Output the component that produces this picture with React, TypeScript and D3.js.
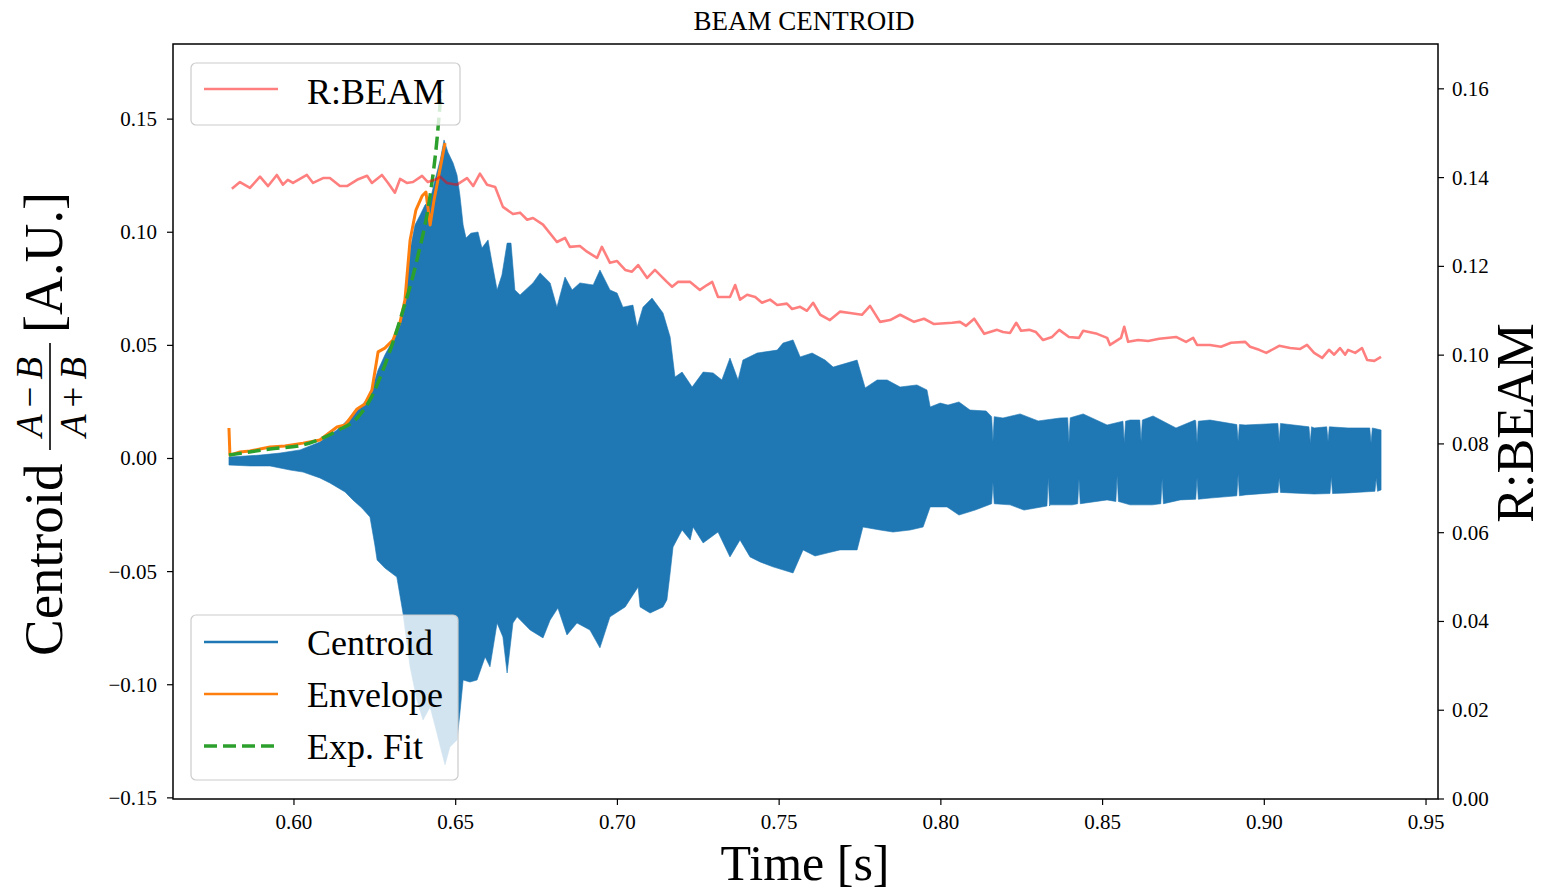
import React from 'react';
import * as d3 from 'd3';

const W = 1545;
const H = 891;

// ---- tick values ----
const xTicks = [0.6, 0.65, 0.7, 0.75, 0.8, 0.85, 0.9, 0.95];
const leftTicks = [-0.15, -0.1, -0.05, 0.0, 0.05, 0.1, 0.15];
const rightTicks = [0.0, 0.02, 0.04, 0.06, 0.08, 0.1, 0.12, 0.14, 0.16];

// ---- Centroid signal: upper and lower edges of the oscillation band [time, value] ----
const centroidUpper: [number, number][] = [
  [0.5799, 0.0007], [0.5849, 0.0011], [0.5895, 0.0015], [0.5957, 0.0024], [0.6019, 0.0038],
  [0.6080, 0.0073], [0.6133, 0.0126], [0.6173, 0.0179], [0.6204, 0.0223], [0.6235, 0.0281],
  [0.6260, 0.0391], [0.6281, 0.0457], [0.6306, 0.0524], [0.6328, 0.0590], [0.6343, 0.0678],
  [0.6359, 0.0921], [0.6374, 0.1032], [0.6390, 0.1076], [0.6405, 0.1120], [0.6421, 0.1142],
  [0.6436, 0.1231], [0.6452, 0.1319], [0.6464, 0.1408], [0.6476, 0.1354], [0.6492, 0.1306],
  [0.6504, 0.1253], [0.6513, 0.1164], [0.6523, 0.1032], [0.6532, 0.0974], [0.6547, 0.0996],
  [0.6569, 0.1001], [0.6581, 0.0930], [0.6600, 0.0966], [0.6612, 0.0868], [0.6628, 0.0745],
  [0.6643, 0.0811], [0.6659, 0.0952], [0.6671, 0.0952], [0.6683, 0.0745], [0.6699, 0.0723],
  [0.6739, 0.0776], [0.6761, 0.0820], [0.6792, 0.0776], [0.6813, 0.0669], [0.6838, 0.0802],
  [0.6860, 0.0745], [0.6884, 0.0776], [0.6925, 0.0767], [0.6946, 0.0833], [0.6977, 0.0745],
  [0.6999, 0.0731], [0.7017, 0.0669], [0.7048, 0.0678], [0.7061, 0.0581], [0.7079, 0.0669],
  [0.7107, 0.0709], [0.7141, 0.0643], [0.7163, 0.0537], [0.7178, 0.0360], [0.7200, 0.0382],
  [0.7231, 0.0316], [0.7265, 0.0382], [0.7296, 0.0378], [0.7323, 0.0347], [0.7348, 0.0444],
  [0.7373, 0.0347], [0.7388, 0.0435], [0.7432, 0.0466], [0.7494, 0.0479], [0.7512, 0.0510],
  [0.7543, 0.0524], [0.7565, 0.0449], [0.7602, 0.0466], [0.7642, 0.0435], [0.7667, 0.0404],
  [0.7741, 0.0435], [0.7766, 0.0312], [0.7803, 0.0347], [0.7834, 0.0347], [0.7874, 0.0316],
  [0.7926, 0.0325], [0.7957, 0.0303], [0.7967, 0.0228], [0.7998, 0.0245], [0.8022, 0.0236],
  [0.8056, 0.0250], [0.8090, 0.0214], [0.8140, 0.0210], [0.8192, 0.0179], [0.8245, 0.0197],
  [0.8301, 0.0166], [0.8369, 0.0179], [0.8440, 0.0197], [0.8514, 0.0148], [0.8585, 0.0170],
  [0.8656, 0.0188], [0.8727, 0.0135], [0.8786, 0.0170], [0.8832, 0.0170], [0.8941, 0.0148],
  [0.9046, 0.0157], [0.9154, 0.0135], [0.9259, 0.0135], [0.9361, 0.0126],
];

// narrow white gaps cutting into the top of the band (late part of the record)
const centroidUpperGaps: [number, number][] = [
  [0.8157, 0.0185], [0.8161, 0.0075], [0.8165, 0.0185],
  [0.8392, 0.0180], [0.8396, 0.0070], [0.8400, 0.0180],
  [0.8563, 0.0165], [0.8567, 0.0068], [0.8571, 0.0165],
  [0.8615, 0.0170], [0.8619, 0.0075], [0.8623, 0.0170],
  [0.8788, 0.0165], [0.8792, 0.0070], [0.8796, 0.0165],
  [0.8915, 0.0150], [0.8919, 0.0075], [0.8923, 0.0150],
  [0.9042, 0.0155], [0.9046, 0.0072], [0.9050, 0.0155],
  [0.9138, 0.0140], [0.9142, 0.0068], [0.9146, 0.0140],
  [0.9193, 0.0140], [0.9197, 0.0075], [0.9201, 0.0140],
  [0.9326, 0.0135], [0.9330, 0.0068], [0.9334, 0.0135],
];

const centroidLower: [number, number][] = [
  [0.5799, -0.0029], [0.5864, -0.0033], [0.5926, -0.0033], [0.5988, -0.0051], [0.6028, -0.0060],
  [0.6080, -0.0086], [0.6111, -0.0108], [0.6158, -0.0148], [0.6182, -0.0183], [0.6210, -0.0219],
  [0.6235, -0.0259], [0.6250, -0.0382], [0.6257, -0.0449], [0.6281, -0.0484], [0.6318, -0.0524],
  [0.6337, -0.0683], [0.6359, -0.0921], [0.6380, -0.1067], [0.6399, -0.1156], [0.6421, -0.1098],
  [0.6442, -0.1213], [0.6455, -0.1288], [0.6467, -0.1354], [0.6482, -0.1275], [0.6504, -0.1244],
  [0.6513, -0.1125], [0.6523, -0.0979], [0.6544, -0.0988], [0.6566, -0.0979], [0.6591, -0.0877],
  [0.6606, -0.0921], [0.6628, -0.0727], [0.6646, -0.0789], [0.6659, -0.0948], [0.6677, -0.0727],
  [0.6690, -0.0700], [0.6730, -0.0758], [0.6770, -0.0793], [0.6792, -0.0714], [0.6816, -0.0661],
  [0.6844, -0.0780], [0.6875, -0.0727], [0.6915, -0.0758], [0.6946, -0.0837], [0.6977, -0.0700],
  [0.7024, -0.0656], [0.7064, -0.0568], [0.7070, -0.0656], [0.7101, -0.0683], [0.7141, -0.0656],
  [0.7153, -0.0625], [0.7163, -0.0506], [0.7172, -0.0391], [0.7200, -0.0316], [0.7225, -0.0360],
  [0.7234, -0.0303], [0.7265, -0.0373], [0.7311, -0.0325], [0.7348, -0.0435], [0.7379, -0.0360],
  [0.7410, -0.0435], [0.7441, -0.0457], [0.7481, -0.0479], [0.7543, -0.0506], [0.7574, -0.0404],
  [0.7611, -0.0431], [0.7648, -0.0418], [0.7688, -0.0404], [0.7741, -0.0404], [0.7759, -0.0303],
  [0.7812, -0.0316], [0.7852, -0.0325], [0.7905, -0.0316], [0.7945, -0.0303], [0.7967, -0.0214],
  [0.8019, -0.0214], [0.8056, -0.0250], [0.8106, -0.0228], [0.8161, -0.0183], [0.8214, -0.0205],
  [0.8257, -0.0228], [0.8338, -0.0205], [0.8406, -0.0205], [0.8514, -0.0183], [0.8585, -0.0205],
  [0.8653, -0.0205], [0.8740, -0.0183], [0.8832, -0.0175], [0.8941, -0.0161], [0.9046, -0.0148],
  [0.9154, -0.0157], [0.9259, -0.0152], [0.9361, -0.0139],
];

// narrow white gaps cutting into the bottom of the band
const centroidLowerGaps: [number, number][] = [
  [0.8157, -0.0200], [0.8161, -0.0105], [0.8165, -0.0200],
  [0.8328, -0.0210], [0.8332, -0.0085], [0.8336, -0.0210],
  [0.8423, -0.0200], [0.8427, -0.0090], [0.8431, -0.0200],
  [0.8541, -0.0190], [0.8545, -0.0075], [0.8549, -0.0190],
  [0.8680, -0.0200], [0.8684, -0.0090], [0.8688, -0.0200],
  [0.8788, -0.0180], [0.8792, -0.0085], [0.8796, -0.0180],
  [0.8915, -0.0165], [0.8919, -0.0070], [0.8923, -0.0165],
  [0.9042, -0.0150], [0.9046, -0.0085], [0.9050, -0.0150],
  [0.9203, -0.0155], [0.9207, -0.0080], [0.9211, -0.0155],
  [0.9342, -0.0145], [0.9346, -0.0085], [0.9350, -0.0145],
];

// ---- Envelope [time, value] ----
const envelope: [number, number][] = [
  [0.5799, 0.0135], [0.5802, 0.0015], [0.5833, 0.0029], [0.5864, 0.0033], [0.5895, 0.0042],
  [0.5926, 0.0051], [0.5972, 0.0055], [0.6028, 0.0068], [0.6080, 0.0082], [0.6133, 0.0139],
  [0.6158, 0.0148], [0.6195, 0.0219], [0.6219, 0.0241], [0.6241, 0.0303], [0.6260, 0.0471],
  [0.6281, 0.0488], [0.6306, 0.0524], [0.6328, 0.0603], [0.6343, 0.0700], [0.6359, 0.0965],
  [0.6377, 0.1098], [0.6396, 0.1160], [0.6408, 0.1178], [0.6421, 0.1032], [0.6433, 0.1142],
  [0.6445, 0.1231], [0.6467, 0.1394],
];

// ---- Exponential fit [time, value] ----
const expFit: [number, number][] = [
  [0.5799, 0.0015], [0.5926, 0.0042], [0.6028, 0.0060], [0.6133, 0.0122], [0.6195, 0.0179],
  [0.6235, 0.0259], [0.6281, 0.0413], [0.6328, 0.0612], [0.6380, 0.0877], [0.6421, 0.1164],
  [0.6442, 0.1407], [0.6455, 0.1628],
];

// ---- R:BEAM (right axis) [time, value] ----
const rBeam: [number, number][] = [
  [0.5808, 0.1375], [0.5833, 0.1390], [0.5864, 0.1377], [0.5895, 0.1402], [0.5920, 0.1381],
  [0.5947, 0.1406], [0.5966, 0.1384], [0.5981, 0.1395], [0.5997, 0.1388], [0.6040, 0.1406],
  [0.6059, 0.1388], [0.6090, 0.1399], [0.6111, 0.1399], [0.6142, 0.1381], [0.6164, 0.1381],
  [0.6195, 0.1395], [0.6226, 0.1404], [0.6241, 0.1388], [0.6272, 0.1406], [0.6291, 0.1388],
  [0.6312, 0.1366], [0.6328, 0.1397], [0.6349, 0.1388], [0.6368, 0.1390], [0.6396, 0.1404],
  [0.6414, 0.1390], [0.6442, 0.1397], [0.6452, 0.1402], [0.6473, 0.1388], [0.6504, 0.1384],
  [0.6535, 0.1399], [0.6554, 0.1381], [0.6575, 0.1409], [0.6597, 0.1384], [0.6622, 0.1379],
  [0.6646, 0.1334], [0.6677, 0.1318], [0.6699, 0.1321], [0.6721, 0.1305], [0.6739, 0.1309],
  [0.6770, 0.1294], [0.6813, 0.1255], [0.6838, 0.1264], [0.6853, 0.1244], [0.6884, 0.1246],
  [0.6906, 0.1233], [0.6937, 0.1219], [0.6952, 0.1244], [0.6977, 0.1208], [0.6999, 0.1212],
  [0.7024, 0.1192], [0.7045, 0.1188], [0.7064, 0.1203], [0.7092, 0.1174], [0.7116, 0.1192],
  [0.7153, 0.1165], [0.7169, 0.1154], [0.7187, 0.1165], [0.7225, 0.1165], [0.7255, 0.1147],
  [0.7277, 0.1158], [0.7293, 0.1165], [0.7311, 0.1131], [0.7348, 0.1131], [0.7364, 0.1158],
  [0.7379, 0.1125], [0.7401, 0.1136], [0.7426, 0.1131], [0.7447, 0.1118], [0.7472, 0.1125],
  [0.7494, 0.1113], [0.7524, 0.1116], [0.7540, 0.1104], [0.7565, 0.1109], [0.7586, 0.1100],
  [0.7605, 0.1118], [0.7627, 0.1091], [0.7657, 0.1079], [0.7688, 0.1098], [0.7719, 0.1095],
  [0.7756, 0.1091], [0.7781, 0.1111], [0.7812, 0.1075], [0.7843, 0.1079], [0.7874, 0.1091],
  [0.7917, 0.1075], [0.7948, 0.1082], [0.7979, 0.1070], [0.8035, 0.1073], [0.8059, 0.1075],
  [0.8078, 0.1066], [0.8103, 0.1082], [0.8134, 0.1048], [0.8174, 0.1057], [0.8192, 0.1052],
  [0.8214, 0.1050], [0.8233, 0.1073], [0.8248, 0.1055], [0.8273, 0.1057], [0.8294, 0.1052],
  [0.8316, 0.1034], [0.8344, 0.1041], [0.8366, 0.1057], [0.8396, 0.1041], [0.8427, 0.1039],
  [0.8440, 0.1055], [0.8483, 0.1048], [0.8514, 0.1039], [0.8523, 0.1023], [0.8557, 0.1039],
  [0.8567, 0.1064], [0.8579, 0.1030], [0.8610, 0.1034], [0.8641, 0.1032], [0.8675, 0.1037],
  [0.8727, 0.1041], [0.8758, 0.1030], [0.8780, 0.1039], [0.8792, 0.1023], [0.8832, 0.1023],
  [0.8866, 0.1019], [0.8897, 0.1028], [0.8941, 0.1030], [0.8956, 0.1019], [0.8984, 0.1012],
  [0.9006, 0.1005], [0.9046, 0.1021], [0.9080, 0.1016], [0.9111, 0.1014], [0.9132, 0.1023],
  [0.9154, 0.1005], [0.9179, 0.0994], [0.9200, 0.1012], [0.9216, 0.1001], [0.9234, 0.1016],
  [0.9250, 0.1001], [0.9259, 0.1012], [0.9281, 0.1005], [0.9302, 0.1016], [0.9318, 0.0989],
  [0.9340, 0.0987], [0.9361, 0.0996],
];

const FONT = "'Liberation Serif', 'DejaVu Serif', serif";
const C_BLUE = '#1f77b4';
const C_ORANGE = '#ff7f0e';
const C_GREEN = '#2ca02c';

const fmt = (v: number) => {
  const s = Math.abs(v).toFixed(2);
  return v < -1e-9 ? '\u2212' + s : s;
};

export default function App() {
  const plot = { left: 173, right: 1438, top: 44, bottom: 799 };
  const x = d3.scaleLinear().domain([0.5626, 0.9537]).range([plot.left, plot.right]);
  const yL = d3.scaleLinear().domain([-0.1505, 0.1832]).range([plot.bottom, plot.top]);
  const yR = d3.scaleLinear().domain([0, 0.1701]).range([plot.bottom, plot.top]);

  const lineL = d3.line<[number, number]>().x((d) => x(d[0])).y((d) => yL(d[1]));
  const lineR = d3.line<[number, number]>().x((d) => x(d[0])).y((d) => yR(d[1]));
  const fitLine = d3
    .line<[number, number]>()
    .x((d) => x(d[0]))
    .y((d) => yL(d[1]))
    .curve(d3.curveMonotoneX);

  // merge the gap readings into each edge (a gap replaces the smooth edge locally)
  const mergeEdge = (edge: [number, number][], gaps: [number, number][]) => {
    const gapSpans: [number, number][] = [];
    for (let i = 0; i < gaps.length; i += 3) gapSpans.push([gaps[i][0], gaps[i + 2][0]]);
    const kept = edge.filter((p) => !gapSpans.some(([a, b]) => p[0] >= a && p[0] <= b));
    return [...kept, ...gaps].sort((a, b) => a[0] - b[0]);
  };
  const upper = mergeEdge(centroidUpper, centroidUpperGaps);
  const lower = mergeEdge(centroidLower, centroidLowerGaps);
  const band = [...upper, ...lower.slice().reverse()];
  const bandPath = (lineL(band) || '') + 'Z';

  const tickLen = 6;

  return (
    <div style={{ position: 'absolute', left: 0, top: 0 }}>
      <svg width={W} height={H} viewBox={`0 0 ${W} ${H}`} style={{ display: 'block', background: '#fff' }}>
        <defs>
          <clipPath id="plotClip">
            <rect x={plot.left} y={plot.top} width={plot.right - plot.left} height={plot.bottom - plot.top} />
          </clipPath>
        </defs>

        {/* primary axes content */}
        <g clipPath="url(#plotClip)">
          <path d={bandPath} fill={C_BLUE} stroke={C_BLUE} strokeWidth={0.6} strokeLinejoin="round" />
          <path d={lineL(envelope) || ''} fill="none" stroke={C_ORANGE} strokeWidth={3} strokeLinejoin="round" />
          <path
            d={fitLine(expFit) || ''}
            fill="none"
            stroke={C_GREEN}
            strokeWidth={3.5}
            strokeDasharray="13,6"
          />
        </g>

        {/* lower legend (primary axes) */}
        <g>
          <rect x={191} y={615} width={267} height={165} rx={5} ry={5} fill="#fff" fillOpacity={0.8} stroke="#cccccc" strokeWidth={1.2} />
          <line x1={204} x2={278} y1={642} y2={642} stroke={C_BLUE} strokeWidth={2.5} />
          <line x1={204} x2={278} y1={694} y2={694} stroke={C_ORANGE} strokeWidth={2.5} />
          <line x1={204} x2={278} y1={746} y2={746} stroke={C_GREEN} strokeWidth={3.5} strokeDasharray="13,6" />
          <text x={307} y={655} fontFamily={FONT} fontSize={36} fill="#000">Centroid</text>
          <text x={307} y={707} fontFamily={FONT} fontSize={36} fill="#000">Envelope</text>
          <text x={307} y={759} fontFamily={FONT} fontSize={36} fill="#000">Exp. Fit</text>
        </g>

        {/* twin axes content */}
        <g clipPath="url(#plotClip)">
          <path d={lineR(rBeam) || ''} fill="none" stroke="#ff0000" strokeOpacity={0.5} strokeWidth={2.6} strokeLinejoin="round" />
        </g>

        {/* upper legend (twin axes) */}
        <g>
          <rect x={191} y={63} width={269} height={62} rx={5} ry={5} fill="#fff" fillOpacity={0.8} stroke="#cccccc" strokeWidth={1.2} />
          <line x1={204} x2={278} y1={89} y2={89} stroke="#ff0000" strokeOpacity={0.5} strokeWidth={2.6} />
          <text x={307} y={104} fontFamily={FONT} fontSize={36} fill="#000">R:BEAM</text>
        </g>

        {/* frame */}
        <rect
          x={plot.left}
          y={plot.top}
          width={plot.right - plot.left}
          height={plot.bottom - plot.top}
          fill="none"
          stroke="#000"
          strokeWidth={1.5}
        />

        {/* bottom axis */}
        <g>
          {xTicks.map((t) => (
            <g key={'x' + t}>
              <line x1={x(t)} x2={x(t)} y1={plot.bottom} y2={plot.bottom + tickLen} stroke="#000" strokeWidth={1.2} />
              <text x={x(t)} y={829} textAnchor="middle" fontFamily={FONT} fontSize={21} fill="#000">
                {t.toFixed(2)}
              </text>
            </g>
          ))}
        </g>

        {/* left axis */}
        <g>
          {leftTicks.map((t) => (
            <g key={'l' + t}>
              <line x1={plot.left - tickLen} x2={plot.left} y1={yL(t)} y2={yL(t)} stroke="#000" strokeWidth={1.2} />
              <text x={157} y={yL(t) + 7} textAnchor="end" fontFamily={FONT} fontSize={21} fill="#000">
                {fmt(t)}
              </text>
            </g>
          ))}
        </g>

        {/* right axis */}
        <g>
          {rightTicks.map((t) => (
            <g key={'r' + t}>
              <line x1={plot.right} x2={plot.right + tickLen} y1={yR(t)} y2={yR(t)} stroke="#000" strokeWidth={1.2} />
              <text x={1452} y={yR(t) + 7} textAnchor="start" fontFamily={FONT} fontSize={21} fill="#000">
                {fmt(t)}
              </text>
            </g>
          ))}
        </g>

        {/* title */}
        <text x={804} y={30} textAnchor="middle" fontFamily={FONT} fontSize={27} fill="#000">
          BEAM CENTROID
        </text>

        {/* x label */}
        <text x={805} y={880} textAnchor="middle" fontFamily={FONT} fontSize={50} fill="#000">
          Time [s]
        </text>

        {/* right label */}
        <text
          transform={`translate(1533, 423) rotate(-90)`}
          textAnchor="middle"
          fontFamily={FONT}
          fontSize={52}
          fill="#000"
        >
          R:BEAM
        </text>

        {/* left label: Centroid (A−B)/(A+B) [A.U.] */}
        <g transform="rotate(-90)" fontFamily={FONT} fill="#000">
          <text x={-656} y={62} fontSize={55} textAnchor="start">Centroid</text>
          <text x={-397} y={42} fontSize={37} textAnchor="middle">
            <tspan fontStyle="italic">A</tspan>
            <tspan dx={7}>{'\u2212'}</tspan>
            <tspan dx={7} fontStyle="italic">B</tspan>
          </text>
          <line x1={-450} x2={-343} y1={50} y2={50} stroke="#000" strokeWidth={1.6} />
          <text x={-397} y={86} fontSize={37} textAnchor="middle">
            <tspan fontStyle="italic">A</tspan>
            <tspan dx={7}>+</tspan>
            <tspan dx={7} fontStyle="italic">B</tspan>
          </text>
          <text x={-333} y={62} fontSize={54} textAnchor="start">[A.U.]</text>
        </g>
      </svg>
    </div>
  );
}
